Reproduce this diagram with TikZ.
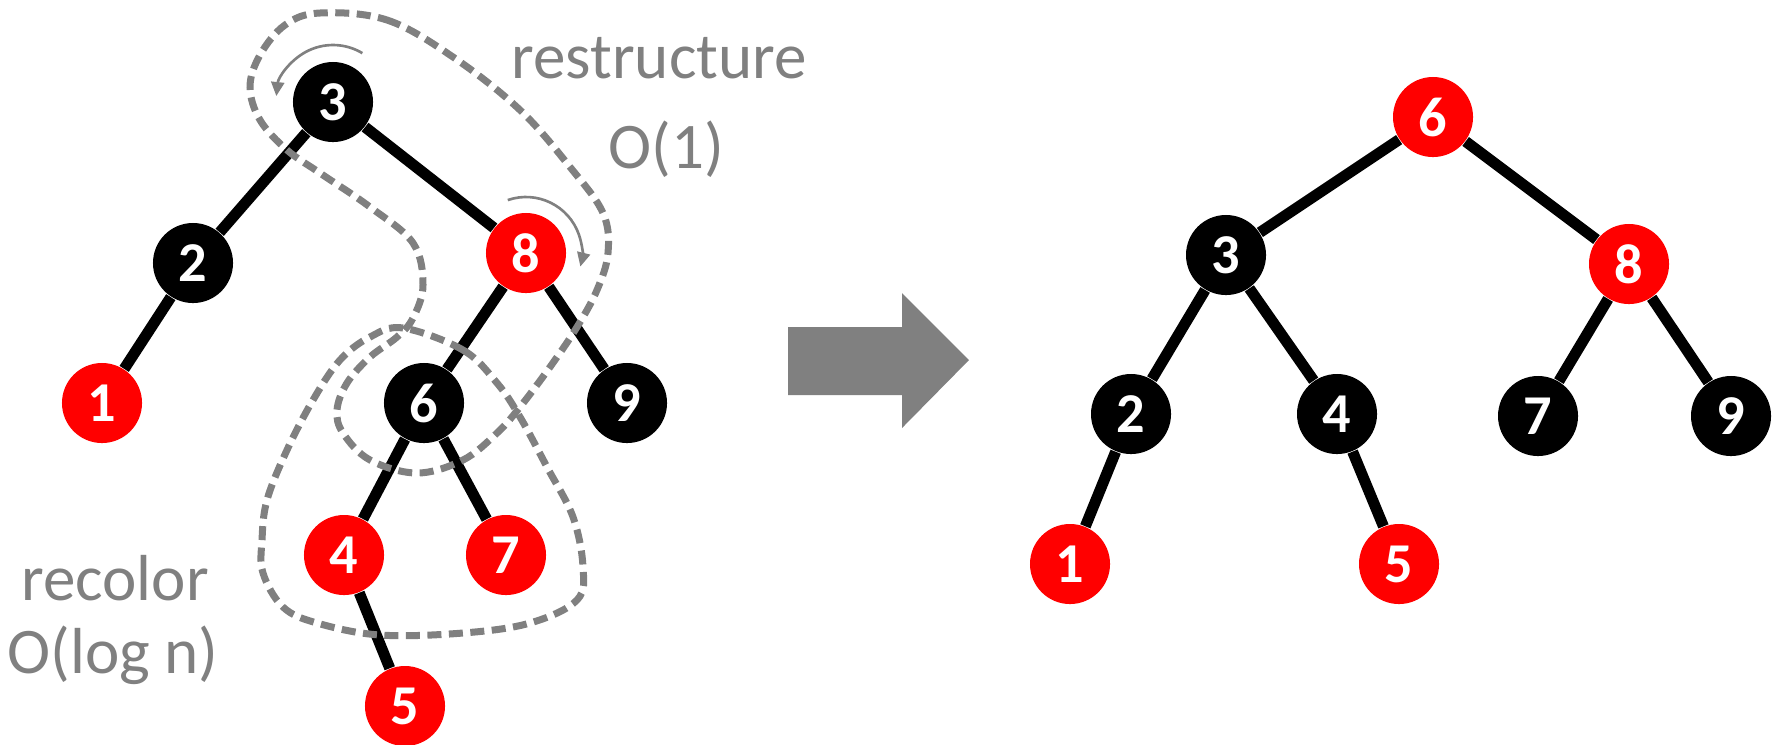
\documentclass[tikz,border=0pt]{standalone}
\usepackage{fontspec}
\setmainfont{Carlito}
\usetikzlibrary{arrows.meta}
\definecolor{lblgray}{HTML}{808080}
\tikzset{
  blk/.style={circle,fill=black,minimum size=0.8cm,inner sep=0pt,text=white,
    font=\fontsize{16}{19}\selectfont\bfseries},
  rd/.style={blk,fill=red},
  edge/.style={line width=0.11cm},
  dashring/.style={lblgray,line width=0.07cm,dash pattern=on 0.14cm off 0.075cm},
  turn/.style={lblgray,line width=0.75pt,-{Triangle[length=0.14cm,width=0.13cm]}},
  lbl/.style={lblgray,font=\fontsize{18.5}{22}\selectfont,anchor=base}
}
\begin{document}
\begin{tikzpicture}[x=0.01cm,y=-0.01cm,line cap=butt]
\useasboundingbox (0,0) rectangle (1777,744);
% tree before the fix-up
\node[blk] (a3) at (333,102) {3};
\node[blk] (a2) at (193,263) {2};
\node[rd]  (a1) at (102,403) {1};
\node[rd]  (a8) at (526,253) {8};
\node[blk] (a6) at (424,403) {6};
\node[blk] (a9) at (627,403) {9};
\node[rd]  (a4) at (344,555) {4};
\node[rd]  (a7) at (506,555) {7};
\node[rd]  (a5) at (405,706) {5};
\draw[edge] (a3) -- (a2);
\draw[edge] (a3) -- (a8);
\draw[edge] (a2) -- (a1);
\draw[edge] (a8) -- (a6);
\draw[edge] (a8) -- (a9);
\draw[edge] (a6) -- (a4);
\draw[edge] (a6) -- (a7);
\draw[edge] (a4) -- (a5);
% rotations
\draw[turn] (a3.center) ++(-59:57) arc[start angle=-59,end angle=-174,radius=57];
\draw[turn] (a8.center) ++(-109:56) arc[start angle=-109,end angle=14,radius=56];
% groups
\draw[dashring] plot[smooth cycle,tension=0.6] coordinates {
  (320,13) (387,20) (453,57) (520,110) (570,167) (603,213) (608,253) (597,290)
  (577,327) (550,367) (520,407) (497,433) (463,460) (417,473) (370,460) (343,433)
  (337,410) (347,383) (370,357) (397,337) (413,318) (423,285) (413,243) (370,207)
  (320,173) (287,150) (260,120) (250,87) (260,55) (285,25)};
\draw[dashring] plot[smooth cycle,tension=0.6] coordinates {
  (403,328) (463,350) (497,383) (520,417) (547,467) (573,517) (583,567) (577,600)
  (530,623) (463,633) (380,635) (317,623) (283,607) (263,573) (262,540) (267,500)
  (287,450) (313,400) (340,360) (370,337)};
\node[lbl] (restr) at (659,78) {restructure};
\node[lbl] (restrc) at (666,168) {O(1)};
\node[lbl] (recol) at (115,600) {recolor};
\node[lbl] (recolc) at (113,673) {O(log n)};
% arrow
\fill[lblgray] (788,327) -- (902,327) -- (902,293) -- (969,360) -- (902,428)
  -- (902,395) -- (788,395) -- cycle;
% tree after the fix-up
\node[rd]  (b6) at (1433,117) {6};
\node[blk] (b3) at (1226,255) {3};
\node[rd]  (b8) at (1629,264) {8};
\node[blk] (b2) at (1131,414) {2};
\node[blk] (b4) at (1337,414) {4};
\node[blk] (b7) at (1538,416) {7};
\node[blk] (b9) at (1731,416) {9};
\node[rd]  (b1) at (1070,564) {1};
\node[rd]  (b5) at (1399,564) {5};
\draw[edge] (b6) -- (b3);
\draw[edge] (b6) -- (b8);
\draw[edge] (b3) -- (b2);
\draw[edge] (b3) -- (b4);
\draw[edge] (b8) -- (b7);
\draw[edge] (b8) -- (b9);
\draw[edge] (b2) -- (b1);
\draw[edge] (b4) -- (b5);
\end{tikzpicture}
\end{document}
